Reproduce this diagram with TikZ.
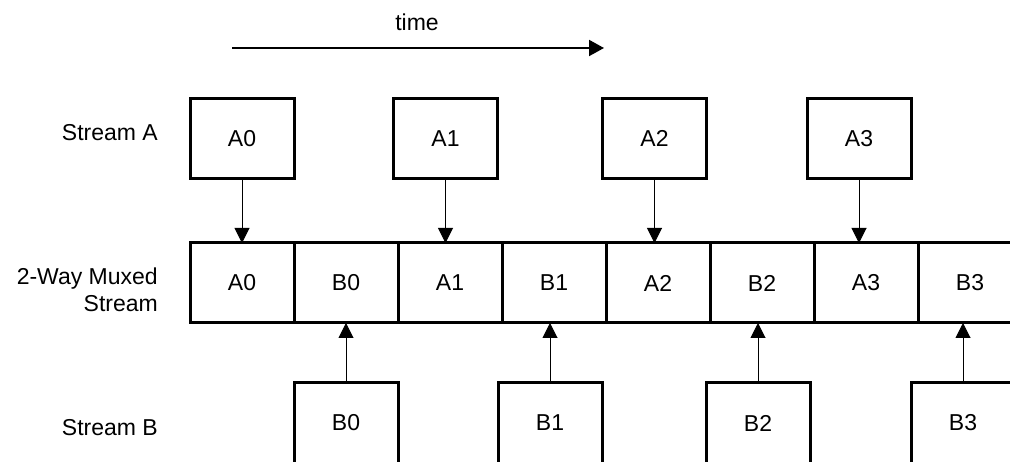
\documentclass[tikz,border=0pt]{standalone}
\usepackage{fontspec}
\setmainfont{Liberation Sans}
\usetikzlibrary{arrows.meta}
\begin{document}
\begin{tikzpicture}[x=1pt,y=-1pt,
  every node/.style={font=\fontsize{23}{27}\selectfont},
  cell/.style={draw,line width=3pt,minimum width=104pt,minimum height=80pt,inner sep=0pt,outer sep=0pt},
  lbl/.style={anchor=east,align=right,inner sep=0pt},
  conn/.style={line width=1pt,-{Triangle[length=15pt,width=15pt]}}]
\useasboundingbox (0,0) rectangle (1010,462);
% time
\node (time) at (417,22) {time};
\coordinate (t0) at (232,48);
\coordinate (t1) at (604,48);
\draw[line width=2pt,-{Triangle[length=15pt,width=16pt]}] (t0) -- (t1);
% labels
\node[lbl] (la) at (158,133) {Stream A};
\node[lbl] (lm) at (158,290) {2-Way Muxed\\Stream};
\node[lbl] (lb) at (158,428) {Stream B};
% stream A
\node[cell] (a0) at (242,138.5) {A0};
\node[cell] (a1) at (445.5,138.5) {A1};
\node[cell] (a2) at (654.5,138.5) {A2};
\node[cell] (a3) at (859,138.5) {A3};
% muxed
\node[cell] (m0) at (242,283) {A0};
\node[cell] (m1) at (346,283) {B0};
\node[cell] (m2) at (450,283) {A1};
\node[cell] (m3) at (554,283) {B1};
\node[cell] (m4) at (658,283) {A2};
\node[cell] (m5) at (762,283) {B2};
\node[cell] (m6) at (866,283) {A3};
\node[cell] (m7) at (970,283) {B3};
% stream B
\node[cell] (b0) at (346,423) {B0};
\node[cell] (b1) at (550,423) {B1};
\node[cell] (b2) at (758,423) {B2};
\node[cell] (b3) at (963,423) {B3};
% arrows
\draw[conn] (a0.south) -- (a0.south |- m0.north);
\draw[conn] (a1.south) -- (a1.south |- m2.north);
\draw[conn] (a2.south) -- (a2.south |- m4.north);
\draw[conn] (a3.south) -- (a3.south |- m6.north);
\draw[conn] (b0.north) -- (b0.north |- m1.south);
\draw[conn] (b1.north) -- (b1.north |- m3.south);
\draw[conn] (b2.north) -- (b2.north |- m5.south);
\draw[conn] (b3.north) -- (b3.north |- m7.south);
\end{tikzpicture}
\end{document}
